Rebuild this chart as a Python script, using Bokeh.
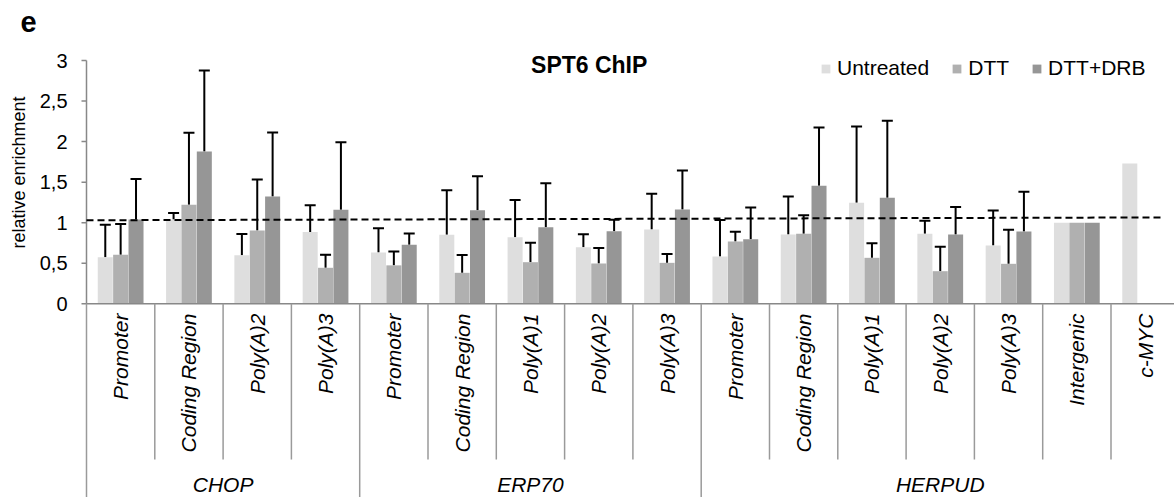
import math
import numpy as np
from bokeh.plotting import figure
from bokeh.models import (ColumnDataSource, Range1d, Legend, LegendItem,
                          Whisker, TeeHead)
from bokeh.core.properties import value
from bokeh.embed import file_html
from bokeh.resources import INLINE

nan = float("nan")

# ---------------- data ----------------
groups = ["CHOP", "ERP70", "HERPUD"]
group_sizes = [4, 5, 7]
sites = ["Promoter", "Coding Region", "Poly(A)2", "Poly(A)3",
         "Promoter", "Coding Region", "Poly(A)1", "Poly(A)2", "Poly(A)3",
         "Promoter", "Coding Region", "Poly(A)1", "Poly(A)2", "Poly(A)3",
         "Intergenic", "c-MYC"]
series = ["Untreated", "DTT", "DTT+DRB"]
untreated = [0.575, 1.04, 0.60, 0.885, 0.633, 0.851, 0.821, 0.698, 0.916,
             0.583, 0.854, 1.245, 0.863, 0.719, 1.00, 1.73]
dtt = [0.604, 1.22, 0.904, 0.444, 0.474, 0.382, 0.513, 0.497, 0.505,
       0.768, 0.863, 0.567, 0.402, 0.493, 1.00, nan]
dtt_drb = [1.04, 1.878, 1.323, 1.161, 0.728, 1.152, 0.945, 0.895, 1.163,
           0.797, 1.455, 1.307, 0.854, 0.891, 1.00, nan]
untreated_sd = [0.40, 0.08, 0.26, 0.33, 0.30, 0.55, 0.46, 0.16, 0.44,
                0.45, 0.47, 0.94, 0.16, 0.43, nan, nan]
dtt_sd = [0.38, 0.89, 0.63, 0.16, 0.17, 0.22, 0.24, 0.19, 0.11,
          0.12, 0.23, 0.18, 0.30, 0.42, nan, nan]
dtt_drb_sd = [0.50, 1.00, 0.79, 0.83, 0.14, 0.42, 0.54, 0.14, 0.48,
              0.39, 0.72, 0.95, 0.34, 0.49, nan, nan]
reference_line = [1.03, 1.065]   # dashed line, left end / right end
y_ticks = [0, 0.5, 1, 1.5, 2, 2.5, 3]
y_tick_labels = ["0", "0,5", "1", "1,5", "2", "2,5", "3"]

colors = ["#dedede", "#b0b0b0", "#969696"]
FONT = "Liberation Sans"
SEP = "#9a9a9a"
AX = "#888888"

# ---------------- figure / scales ----------------
W, H = 1174, 497
px_x = 68.3      # px per category
px_y = 81.1      # px per unit
x0_px = 86.0     # figure px of x = 0
y0_px = 303.3    # figure px (from top) of y = 0
p = figure(width=W, height=H, output_backend="svg", toolbar_location=None,
           x_range=Range1d(-x0_px / px_x, (W - x0_px) / px_x),
           y_range=Range1d(-(H - y0_px) / px_y, y0_px / px_y),
           x_axis_location=None, y_axis_location=None,
           min_border_left=0, min_border_right=0, min_border_top=0,
           min_border_bottom=0)
p.outline_line_color = None
p.xgrid.visible = False
p.ygrid.visible = False
p.background_fill_color = "white"

def dx(px):
    return px / px_x

n = len(sites)
xc = np.arange(n) + 0.5
offsets = [-0.225, 0.0, 0.225]
values = [untreated, dtt, dtt_drb]
sds = [untreated_sd, dtt_sd, dtt_drb_sd]

renderers = []
for vals, sd, off, col in zip(values, sds, offsets, colors):
    v = np.array(vals, dtype=float)
    s = np.array(sd, dtype=float)
    src = ColumnDataSource(dict(x=xc + off, top=v))
    r = p.vbar(x="x", top="top", bottom=0, width=0.22, source=src,
               fill_color=col, line_color=None)
    renderers.append(r)
    ok = np.isfinite(s) & np.isfinite(v)
    wsrc = ColumnDataSource(dict(x=(xc + off)[ok], lower=v[ok], upper=(v + s)[ok]))
    wh = Whisker(base="x", lower="lower", upper="upper", source=wsrc,
                 dimension="height", line_color="black", line_width=2,
                 upper_head=TeeHead(size=11, line_width=2, line_color="black"),
                 lower_head=None)
    p.add_layout(wh)

# ---- y axis (drawn) ----
p.segment(x0=[0], y0=[0], x1=[0], y1=[max(y_ticks)], line_color=AX, line_width=1.5)
p.segment(x0=[-dx(5)] * len(y_ticks), y0=y_ticks, x1=[0] * len(y_ticks), y1=y_ticks,
          line_color=AX, line_width=1.5)
p.text(x=[-dx(19)] * len(y_ticks), y=y_ticks, text=y_tick_labels,
       text_align="right", text_baseline="middle", text_font=value(FONT),
       text_font_size="20px", text_color="#000000")
p.text(x=[-dx(68)], y=[1.62], text=["relative enrichment"], angle=math.pi / 2,
       text_align="center", text_baseline="middle", text_font=value(FONT),
       text_font_size="18px", text_color="#000000")

# ---- x axis line ----
p.segment(x0=[0], y0=[0], x1=[n], y1=[0], line_color=AX, line_width=1.5)

# category separators
starts = np.cumsum([0] + group_sizes)
long_b = [b for b in range(n + 1) if b in starts]
short_b = [b for b in range(n + 1) if b not in starts]
p.segment(x0=short_b, y0=[0] * len(short_b), x1=short_b, y1=[-1.92] * len(short_b),
          line_color=SEP, line_width=1.5)
p.segment(x0=long_b, y0=[0] * len(long_b), x1=long_b, y1=[-3] * len(long_b),
          line_color=SEP, line_width=1.5)

# site labels (rotated)
p.text(x=xc, y=[-0.12] * n, text=sites, angle=math.pi / 2,
       text_align="right", text_baseline="middle",
       text_font=value(FONT), text_font_style="italic", text_font_size="21px",
       text_color="#000000")

# group labels
gcent = [(starts[i] + starts[i + 1]) / 2 for i in range(len(groups))]
p.text(x=gcent, y=[-2.225] * len(groups), text=groups,
       text_align="center", text_baseline="middle",
       text_font=value(FONT), text_font_style="italic", text_font_size="21px",
       text_color="#000000")

# dashed reference line
p.segment(x0=[0], y0=[reference_line[0]], x1=[15.77], y1=[reference_line[1]],
          line_color="black", line_width=2, line_dash="7 4")

# title
p.text(x=[7.36], y=[2.94], text=["SPT6 ChIP"], text_align="center",
       text_baseline="middle", text_font=value(FONT),
       text_font_style="bold", text_font_size="23px", text_color="#000000")

# panel letter
p.text(x=[-dx(66)], y=[3.47], text=["e"], text_align="left",
       text_baseline="alphabetic", text_font=value(FONT),
       text_font_style="bold", text_font_size="29px", text_color="#000000")

legend = Legend(items=[LegendItem(label=s, renderers=[r]) for s, r in zip(series, renderers)],
                orientation="horizontal", location=(820, 417), padding=0,
                spacing=22, glyph_width=11, glyph_height=11, label_standoff=6,
                label_text_font=FONT, label_text_font_size="21px",
                label_text_color="#000000",
                border_line_color=None, background_fill_alpha=0, margin=0)
p.add_layout(legend)

open("out.html", "w").write(file_html(p, INLINE))
